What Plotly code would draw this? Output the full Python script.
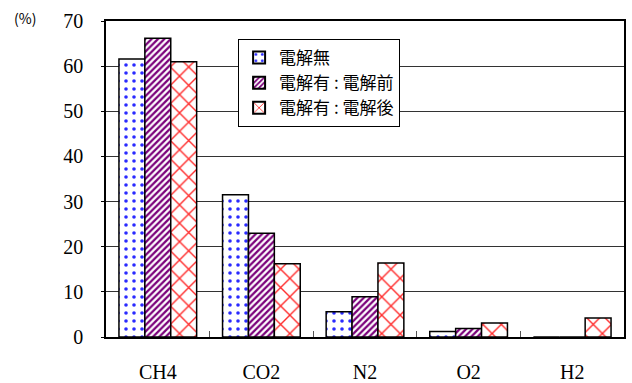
import plotly.graph_objects as go

# Gas composition by component (%)
categories = ["CH4", "CO2", "N2", "O2", "H2"]
series_names = ["電解無", "電解有 : 電解前", "電解有 : 電解後"]
no_electrolysis = [61.6, 31.5, 5.6, 1.2, 0.0]
before_electrolysis = [66.2, 23.0, 8.9, 1.9, 0.0]
after_electrolysis = [61.0, 16.2, 16.4, 3.1, 4.2]
y_ticks = [0, 10, 20, 30, 40, 50, 60, 70]

styles = [
    dict(shape=".", fgcolor="#2a2aff", bgcolor="white", size=8,
         solidity=0.16, fgopacity=1),
    dict(shape="/", fgcolor="#7a007a", bgcolor="white", size=4.5,
         solidity=0.5, fgopacity=1),
    dict(shape="x", fgcolor="#ff2a2a", bgcolor="white", size=13,
         solidity=0.2, fgopacity=1),
]

fig = go.Figure()
for name, vals, pat in zip(series_names,
                           [no_electrolysis, before_electrolysis, after_electrolysis],
                           styles):
    fig.add_trace(go.Bar(
        x=categories, y=vals, name=name,
        marker=dict(color="white", pattern=pat,
                    line=dict(color="black", width=1.5)),
    ))

serif = "Liberation Serif, Times New Roman, serif"
fig.update_layout(
    width=632, height=383,
    margin=dict(l=106, r=8, t=21, b=46, autoexpand=False),
    paper_bgcolor="white", plot_bgcolor="white",
    barmode="group", bargap=0.25, bargroupgap=0,
    showlegend=True,
    legend=dict(
        x=0.255, y=0.943, xanchor="left", yanchor="top",
        bgcolor="white", bordercolor="black", borderwidth=1,
        font=dict(family="Noto Sans CJK JP", size=17, color="black"),
        tracegroupgap=0, itemsizing="constant", itemwidth=30,
    ),
    xaxis=dict(
        automargin=False,
        showline=True, linecolor="black", linewidth=1.5, mirror=True,
        ticks="inside", tickson="boundaries", ticklen=6, tickcolor="#555",
        tickfont=dict(family=serif, size=20, color="black"),
        ticklabelstandoff=16, showgrid=False,
    ),
    yaxis=dict(
        automargin=False,
        range=[0, 70], tickvals=y_ticks,
        showline=True, linecolor="black", linewidth=1.5, mirror=True,
        showgrid=True, gridcolor="#333", gridwidth=1,
        ticks="outside", ticklen=3, tickcolor="black",
        tickfont=dict(family=serif, size=20, color="black"),
        ticklabelstandoff=14, zeroline=False,
    ),
    annotations=[dict(
        text="(%)", xref="paper", yref="paper",
        x=-0.156, y=1.01, xanchor="center", yanchor="middle",
        showarrow=False,
        font=dict(family="Noto Sans CJK JP", size=14, color="black"),
    )],
)

fig.write_html("out.html")
